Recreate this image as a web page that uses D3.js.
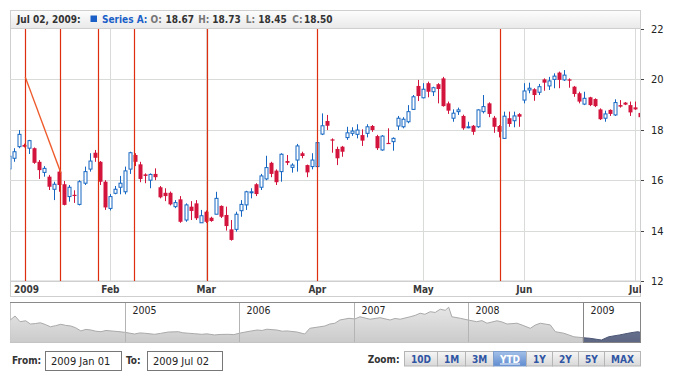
<!DOCTYPE html>
<html><head><meta charset="utf-8">
<script src="https://cdn.jsdelivr.net/npm/d3@7"></script>
<style>body{margin:0;background:#fff;} svg{display:block}</style>
</head><body>
<svg id="c" width="700" height="380"></svg>
<script>
// ---------- DATA ----------
const seriesName = "Series A";
const openV = [16.45,16.87,17.33,17.40,17.27,17.27,16.73,16.31,16.14,15.64,16.34,15.84,15.35,15.42,15.04,15.88,16.44,17.09,16.73,15.94,
14.88,15.48,15.72,15.54,16.44,17.00,16.63,16.23,16.00,16.25,15.72,15.50,15.50,14.95,15.24,14.42,14.95,15.08,14.31,14.75,
14.51,14.65,14.98,14.62,14.05,14.05,14.79,15.02,15.50,15.84,15.72,16.05,16.69,16.38,16.34,16.76,16.51,16.80,17.07,16.60,
16.54,16.54,17.83,18.35,17.62,17.24,17.33,17.69,17.86,17.82,17.79,17.86,18.15,17.75,17.20,17.48,17.53,18.15,18.12,18.32,
18.81,19.74,19.27,19.85,19.51,19.81,20.04,19.05,18.46,18.72,18.55,18.08,18.16,18.12,18.72,19.05,18.48,18.15,17.66,18.46,
18.36,18.62,19.18,19.58,19.61,19.49,20.00,19.74,20.00,20.27,19.98,20.00,19.71,19.45,19.02,19.29,19.22,18.81,18.46,18.79,
18.59,18.98,19.08,18.98,18.89,18.67];
const highV = [17.00,17.27,17.99,17.45,17.60,17.30,16.80,16.56,16.21,15.94,16.40,15.97,15.81,15.60,16.00,16.54,17.07,17.20,16.76,16.00,
15.45,15.77,16.17,16.54,17.13,17.07,16.73,16.27,16.27,16.47,15.77,15.68,15.55,15.21,15.37,15.08,15.17,15.21,14.82,14.80,
14.55,15.54,15.00,14.95,14.42,14.75,15.21,15.58,15.68,15.88,16.25,16.97,16.73,16.43,17.07,17.00,16.67,17.44,17.13,16.62,
17.07,17.50,18.65,18.59,17.66,17.33,17.36,18.12,18.10,18.22,18.02,18.22,18.19,17.80,17.79,18.06,17.70,18.55,18.50,18.98,
19.38,19.98,19.85,19.91,19.71,19.85,20.10,19.12,18.81,18.88,18.60,18.32,18.19,18.81,19.38,19.09,18.55,18.19,18.72,18.72,
18.72,18.66,19.85,19.87,19.65,19.82,20.04,20.10,20.24,20.31,20.37,20.04,19.74,19.51,19.51,19.31,19.25,18.85,18.76,18.81,
19.21,19.18,19.10,19.12,19.12,18.73];
const lowV = [16.40,16.73,17.27,17.30,17.04,16.65,16.05,16.14,15.61,15.21,15.54,15.00,15.15,15.10,15.00,15.81,16.34,16.73,15.81,14.82,
14.80,15.44,15.44,15.44,16.25,16.56,15.92,15.88,15.68,16.00,15.28,15.17,15.00,14.89,14.31,14.35,14.42,14.42,14.31,14.30,
14.35,14.65,14.50,14.00,13.60,13.96,14.55,14.82,15.28,15.37,15.61,16.00,16.12,15.81,15.94,16.60,16.30,16.34,16.87,16.12,
16.43,16.50,17.79,17.99,17.09,16.60,16.93,17.60,17.76,17.66,17.36,17.70,17.92,17.20,17.17,17.44,17.17,17.99,18.06,18.26,
18.79,19.14,19.25,19.29,19.34,19.05,18.92,18.63,18.32,18.59,18.00,18.06,17.80,18.08,18.65,18.50,17.88,17.70,17.66,18.12,
18.10,18.12,19.05,19.45,19.15,19.38,19.55,19.58,19.65,19.65,19.94,19.67,19.31,19.05,18.98,18.94,18.90,18.39,18.32,18.55,
18.55,18.88,18.98,18.55,18.79,18.45];
const closeV = [16.95,17.13,17.82,17.33,17.57,16.69,16.40,16.47,15.74,15.84,15.81,15.02,15.72,15.38,15.94,16.34,16.76,16.89,15.94,14.92,
15.35,15.64,15.88,16.37,17.09,16.73,16.05,16.17,16.23,16.12,15.32,15.37,15.04,15.11,14.35,15.02,14.78,14.49,14.59,14.35,
14.38,15.28,14.55,14.18,13.63,14.65,15.04,15.54,15.54,15.45,16.17,16.50,16.25,15.92,17.03,16.69,16.60,17.36,16.96,16.31,
16.80,17.49,18.16,18.16,17.57,16.87,17.13,17.88,17.95,17.99,17.57,18.12,17.99,17.27,17.75,17.46,17.66,18.46,18.42,18.72,
19.31,19.34,19.61,19.51,19.67,19.62,18.94,18.76,18.66,18.79,18.06,18.12,17.92,18.79,18.92,18.63,18.12,17.92,18.54,18.23,
18.55,18.52,19.54,19.65,19.38,19.71,19.87,19.94,20.13,19.98,20.17,19.95,19.42,19.12,19.25,18.98,18.94,18.42,18.63,18.63,
19.08,18.92,19.00,18.69,18.81,18.50];
const firstDay = "2009-01-01";
const holidays = ["2009-01-01","2009-01-19","2009-02-16","2009-04-10","2009-05-25"];
const yTicks = [12,14,16,18,20,22];
const monthLabels = ["2009","Feb","Mar","Apr","May","Jun","Jul"];
// annotations, positioned on the trading-day axis
const markerPos = [3.15, 10.2, 17.6, 24.75, 39.2, 61, 97.2];
const trendPos = [3.15, 10.2];
const trendVal = [20.1, 16.3];
// scroller (whole history)
const scrollDates = ["2004-01-02","2004-01-17","2004-02-02","2004-02-20","2004-03-06","2004-03-22","2004-04-07","2004-04-22","2004-05-09","2004-05-25",
"2004-06-11","2004-06-27","2004-07-13","2004-07-28","2004-08-14","2004-08-30","2004-09-15","2004-10-01","2004-10-17","2004-11-02",
"2004-11-18","2004-12-10","2005-01-01","2005-02-01","2005-02-18","2005-03-05","2005-04-06","2005-04-25","2005-05-20","2005-06-21",
"2005-07-05","2005-07-23","2005-08-12","2005-09-03","2005-09-20","2005-10-14","2005-11-01","2005-11-27","2005-12-15","2006-01-01",
"2006-01-26","2006-02-27","2006-03-15","2006-03-30","2006-05-01","2006-05-18","2006-06-02","2006-07-04","2006-07-29","2006-08-14",
"2006-09-15","2006-10-01","2006-10-17","2006-11-02","2006-11-18","2006-12-17","2007-01-05","2007-01-21","2007-02-22","2007-03-10",
"2007-03-26","2007-04-27","2007-05-13","2007-05-29","2007-06-30","2007-07-16","2007-08-01","2007-08-16","2007-09-02","2007-09-18",
"2007-10-04","2007-10-20","2007-10-31","2007-11-10","2007-12-07","2008-01-01","2008-01-28","2008-02-14","2008-03-01","2008-04-02",
"2008-04-18","2008-05-04","2008-06-05","2008-06-21","2008-07-17","2008-08-02","2008-08-18","2008-09-19","2008-10-05","2008-11-01",
"2008-11-17","2008-12-03","2009-01-01","2009-01-24","2009-03-01","2009-03-24","2009-04-28","2009-06-02","2009-06-25","2009-07-02"];
const scrollValues = [26.3,28.9,25.2,25.8,23.7,24.0,24.5,23.4,21.9,22.6,
23.5,22.8,22.4,21.3,19.2,20.2,19.8,19.0,18.7,19.5,
19.2,18.8,18.3,17.2,17.9,17.7,17.0,17.6,18.5,18.7,
18.0,17.7,17.4,17.0,17.3,16.6,16.9,17.0,16.8,17.7,
18.7,19.8,19.5,20.3,19.8,19.0,19.2,18.5,17.2,20.9,
21.9,22.4,23.7,24.2,26.3,27.4,27.0,28.4,26.8,27.3,
27.8,26.3,27.3,26.8,28.4,29.3,30.7,30.0,31.7,31.2,
33.3,32.6,34.6,28.4,27.4,26.3,25.2,25.9,24.2,25.8,
25.0,23.7,24.2,23.0,20.9,23.0,24.2,23.1,18.7,17.7,
16.6,15.4,14.8,14.4,13.3,15.4,16.6,18.0,18.7,18.3];
const scrollYears = ["2005","2006","2007","2008","2009"];
const zoomButtons = ["10D","1M","3M","YTD","1Y","2Y","5Y","MAX"];
const selectedZoom = "YTD";

// ---------- SETUP ----------
const FONT = "'DejaVu Sans Condensed','Liberation Sans',Arial,sans-serif";
const RED = "#d3143c", BLUE = "#1466c2", MARK = "#de2d0f";
const svg = d3.select("#c").style("font-family", FONT);
const parse = d3.utcParse("%Y-%m-%d"), fmtKey = d3.utcFormat("%Y-%m-%d");
const hol = new Set(holidays);
const n = closeV.length;
const dates = [];
for (let d = parse(firstDay); dates.length < n; d = d3.utcDay.offset(d, 1)) {
  const wd = d.getUTCDay();
  if (wd === 0 || wd === 6 || hol.has(fmtKey(d))) continue;
  dates.push(d);
}
const data = d3.range(n).map(i => ({i, date: dates[i], o: openV[i], h: highV[i], l: lowV[i], c: closeV[i]}));

const L = 10, R = 640, T = 29, B = 281;
const x = d3.scaleLinear().domain([0, n - 1]).range([9.3, 640.5]);
const y = d3.scaleLinear().domain([12, 22]).range([B, T]);

const defs = svg.append("defs");
const g1 = defs.append("linearGradient").attr("id","hdr").attr("x1",0).attr("y1",0).attr("x2",0).attr("y2",1);
g1.append("stop").attr("offset",0).attr("stop-color","#fdfdfd");
g1.append("stop").attr("offset",1).attr("stop-color","#e9e9e9");
defs.append("clipPath").attr("id","plotClip").append("rect").attr("x",L+0.5).attr("y",T).attr("width",R-L-0.5).attr("height",B-T);

// header bar
svg.append("rect").attr("x",L+0.5).attr("y",10.5).attr("width",R-L).attr("height",18)
  .attr("fill","url(#hdr)").attr("stroke","#cfcfcf");

// plot frame
svg.append("rect").attr("x",L+0.5).attr("y",T-0.5).attr("width",R-L).attr("height",B-T+0.5)
  .attr("fill","#fff").attr("stroke","#cfcfcf");

// grid
const grid = svg.append("g").attr("stroke","#d8dbd8").attr("stroke-width",1);
yTicks.filter(v => v > 12 && v < 22).forEach(v => {
  const yy = Math.round(y(v)) + 0.5;
  grid.append("line").attr("x1",L).attr("x2",R).attr("y1",yy).attr("y2",yy);
});
const monthIdx = data.filter((d, k) => k === 0 || d.date.getUTCMonth() !== data[k-1].date.getUTCMonth()).map(d => d.i);
monthIdx.slice(1).forEach(i => {
  const xx = Math.floor(x(i)) + 0.5;
  grid.append("line").attr("x1",xx).attr("x2",xx).attr("y1",T).attr("y2",B);
});

// candles
const plot = svg.append("g").attr("clip-path","url(#plotClip)");
data.forEach(d => {
  const up = d.c >= d.o;
  const px = Math.floor(x(d.i));
  const col = up ? BLUE : RED;
  plot.append("line").attr("x1",px+0.5).attr("x2",px+0.5).attr("y1",y(d.h)).attr("y2",y(d.l))
    .attr("stroke",col).attr("stroke-width",1);
  const top = y(Math.max(d.o,d.c)), bot = y(Math.min(d.o,d.c));
  if (up) {
    plot.append("rect").attr("x",px-1).attr("y",top).attr("width",3).attr("height",Math.max(bot-top,1))
      .attr("fill","#fff").attr("stroke",col).attr("stroke-width",1);
  } else {
    plot.append("rect").attr("x",px-1.5).attr("y",top).attr("width",4).attr("height",Math.max(bot-top,1.2))
      .attr("fill",col);
  }
});

// annotations
markerPos.forEach(p => {
  const xx = Math.floor(x(p)) + 0.5;
  plot.append("line").attr("x1",xx).attr("x2",xx).attr("y1",T).attr("y2",B)
    .attr("stroke",MARK).attr("stroke-width",1.2);
});
plot.append("path").attr("d", d3.line()(trendPos.map((p,k) => [x(p), y(trendVal[k])])))
  .attr("stroke","#ee5a2a").attr("stroke-width",1.4).attr("fill","none");

// right axis
const ya = svg.append("g");
yTicks.forEach(v => {
  const yy = Math.round(y(v)) + 0.5;
  ya.append("line").attr("x1",641).attr("x2",644).attr("y1",yy).attr("y2",yy).attr("stroke","#444");
  ya.append("text").attr("x",651).attr("y",yy).attr("dy","0.36em").attr("font-size",11).attr("fill","#222").text(v);
});

// x-axis strip
svg.append("rect").attr("x",L+0.5).attr("y",B+0.5).attr("width",R-L).attr("height",15).attr("fill","#fff").attr("stroke","#cfcfcf");
defs.append("clipPath").attr("id","stripClip").append("rect").attr("x",L).attr("y",B).attr("width",R-L+1).attr("height",16);
const xs = svg.append("g").attr("clip-path","url(#stripClip)");
monthIdx.forEach((i, k) => {
  xs.append("text").attr("x", k === 0 ? 14 : x(i)).attr("y",292.5)
    .attr("text-anchor", k === 0 ? "start" : "middle")
    .attr("font-size",10).attr("font-weight","bold").attr("fill","#3a3a3a").text(monthLabels[k]);
});

// header legend
const last = data[n-1];
const fmt = d3.format(".2f");
const hdr = svg.append("g").attr("font-size",10).attr("font-weight","bold");
hdr.append("text").attr("x",17).attr("y",23).attr("fill","#333").text(d3.utcFormat("%b %d, %Y")(last.date) + ":");
hdr.append("rect").attr("x",90.5).attr("y",15.5).attr("width",6.5).attr("height",6.5).attr("fill","#1a5fc8");
hdr.append("text").attr("x",102).attr("y",23).attr("fill","#1a5fc8").text(seriesName + ":");
[["O:",150.5,165.5,last.o],["H:",198.3,212.3,last.h],["L:",245.7,258.3,last.l],["C:",292.3,304,last.c]].forEach(([lab,lx,vx,v]) => {
  hdr.append("text").attr("x",lx).attr("y",23).attr("fill","#777").text(lab);
  hdr.append("text").attr("x",vx).attr("y",23).attr("fill","#333").text(fmt(v));
});

// ---------- SCROLLER ----------
const sT = 302, sB = 342;
const sx = d3.scaleUtc().domain([parse("2004-01-01"), parse("2009-07-02")]).range([L, R]);
const sy = d3.scaleLinear().domain([12, 38]).range([sB, sT]);
const sd = scrollDates.map((s,k) => ({d: parse(s), v: scrollValues[k]}));
const selX0 = sx(dates[0]) - 0.5, selX1 = R;
const g2 = defs.append("linearGradient").attr("id","sgray").attr("x1",0).attr("y1",0).attr("x2",0).attr("y2",1);
g2.append("stop").attr("offset",0).attr("stop-color","#e6e6e6");
g2.append("stop").attr("offset",1).attr("stop-color","#cbcbcb");
const g3 = defs.append("linearGradient").attr("id","ssel").attr("x1",0).attr("y1",0).attr("x2",0).attr("y2",1);
g3.append("stop").attr("offset",0).attr("stop-color","#7a84a0");
g3.append("stop").attr("offset",1).attr("stop-color","#5d6784");
defs.append("clipPath").attr("id","sOut").append("rect").attr("x",L).attr("y",sT).attr("width",selX0-L).attr("height",sB-sT);
defs.append("clipPath").attr("id","sIn").append("rect").attr("x",selX0).attr("y",sT).attr("width",selX1-selX0).attr("height",sB-sT);

svg.append("rect").attr("x",L+0.5).attr("y",sT+0.5).attr("width",R-L).attr("height",sB-sT).attr("fill","#fff").attr("stroke","#c4c4c4");
const area = d3.area().x(d => sx(d.d)).y0(sB).y1(d => sy(d.v));
const sline = d3.line().x(d => sx(d.d)).y(d => sy(d.v));
svg.append("path").attr("d",area(sd)).attr("fill","url(#sgray)").attr("clip-path","url(#sOut)");
svg.append("path").attr("d",sline(sd)).attr("fill","none").attr("stroke","#a9a9a9").attr("clip-path","url(#sOut)");
svg.append("path").attr("d",area(sd)).attr("fill","url(#ssel)").attr("clip-path","url(#sIn)");
svg.append("path").attr("d",sline(sd)).attr("fill","none").attr("stroke","#4d5775").attr("clip-path","url(#sIn)");
scrollYears.forEach(yr => {
  const xx = Math.round(sx(parse(yr + "-01-01"))) + 0.5;
  svg.append("line").attr("x1",xx).attr("x2",xx).attr("y1",sT).attr("y2",sB).attr("stroke","#b4b4b4");
  svg.append("text").attr("x",xx+7).attr("y",314).attr("font-size",10.5).attr("fill","#222").text(yr);
});
svg.append("line").attr("x1",L).attr("x2",R+0.5).attr("y1",sT+0.5).attr("y2",sT+0.5).attr("stroke","#8a8a8a");
svg.append("rect").attr("x",Math.round(selX0)+0.5).attr("y",sT+0.5).attr("width",selX1-Math.round(selX0)).attr("height",sB-sT)
  .attr("fill","none").attr("stroke","#858585");

// ---------- CONTROLS ----------
const ctl = svg.append("g").attr("font-size",10);
ctl.append("text").attr("x",12).attr("y",364).attr("font-weight","bold").attr("fill","#333").text("From:");
ctl.append("rect").attr("x",45.5).attr("y",351.5).attr("width",76).attr("height",19).attr("fill","#fff").attr("stroke","#777");
ctl.append("text").attr("x",51).attr("y",365).attr("font-size",11).attr("fill","#222").text(d3.utcFormat("%Y %b %d")(parse(firstDay)));
ctl.append("text").attr("x",126).attr("y",364).attr("font-weight","bold").attr("fill","#333").text("To:");
ctl.append("rect").attr("x",147.5).attr("y",351.5).attr("width",75).attr("height",19).attr("fill","#fff").attr("stroke","#777");
ctl.append("text").attr("x",153).attr("y",365).attr("font-size",11).attr("fill","#222").text(d3.utcFormat("%Y %b %d")(last.date));

const gb = defs.append("linearGradient").attr("id","btn").attr("x1",0).attr("y1",0).attr("x2",0).attr("y2",1);
gb.append("stop").attr("offset",0).attr("stop-color","#f6f6f6");
gb.append("stop").attr("offset",1).attr("stop-color","#d8d8d8");
const gs = defs.append("linearGradient").attr("id","btnSel").attr("x1",0).attr("y1",0).attr("x2",0).attr("y2",1);
gs.append("stop").attr("offset",0).attr("stop-color","#a4c0e8");
gs.append("stop").attr("offset",1).attr("stop-color","#5f8cd0");

const bg = svg.append("g").attr("font-size",10).attr("font-weight","bold");
const widths = zoomButtons.map(t => {
  const tt = bg.append("text").text(t);
  const w = tt.node().getComputedTextLength();
  tt.remove();
  return Math.round(w + 13);
});
let bx = 640.5 - d3.sum(widths);
const bStart = bx;
zoomButtons.forEach((t, k) => {
  const sel = t === selectedZoom;
  bg.append("rect").attr("x",bx).attr("y",351.5).attr("width",widths[k]).attr("height",14.5)
    .attr("fill", sel ? "url(#btnSel)" : "url(#btn)").attr("stroke", sel ? "#7d9dcc" : "#b5b5b5");
  bg.append("text").attr("x",bx + widths[k]/2).attr("y",362.5).attr("text-anchor","middle")
    .attr("fill", sel ? "#fff" : "#2f55a4").attr("text-decoration", sel ? "underline" : null).text(t);
  bx += widths[k];
});
ctl.append("text").attr("x",bStart-5).attr("y",363).attr("text-anchor","end").attr("font-weight","bold").attr("fill","#333").text("Zoom:");
</script>
</body></html>
